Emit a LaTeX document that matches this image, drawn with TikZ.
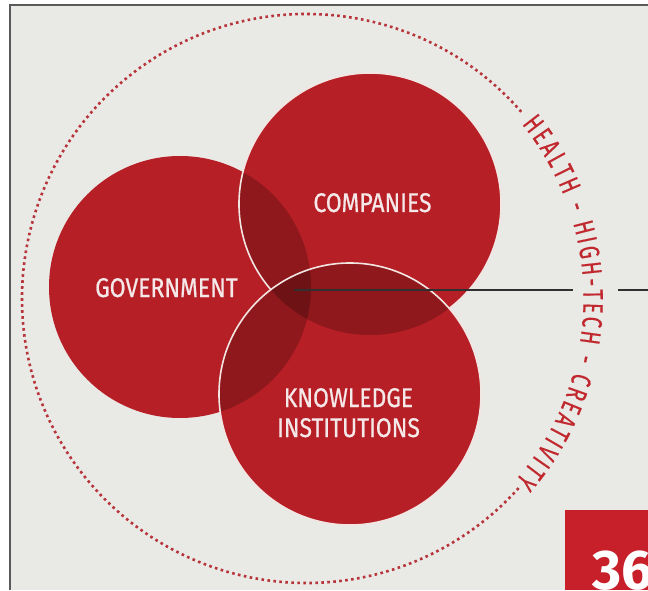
\documentclass[tikz,border=0pt]{standalone}
\usepackage{fontspec}
\setmainfont{Fira Sans}
\newfontfamily\labelfont[FakeStretch=0.85,FakeBold=0.6]{Fira Sans}
\newfontfamily\arcfont[FakeStretch=0.7,FakeBold=0.4]{Fira Sans}
\usetikzlibrary{decorations.text}
\definecolor{bggray}{HTML}{E9E9E6}
\definecolor{bordergray}{HTML}{5A5A5A}
\definecolor{basered}{HTML}{B71F26}
\definecolor{lensred}{HTML}{8E181C}
\definecolor{triplered}{HTML}{6F1216}
\definecolor{outlinewhite}{HTML}{F2E6E3}
\definecolor{labelwhite}{HTML}{F5E8E8}
\definecolor{dotred}{HTML}{B7343B}
\definecolor{arcred}{HTML}{C0282E}
\definecolor{boxred}{HTML}{C8202A}
\definecolor{linegray}{HTML}{303030}
\begin{document}
\begin{tikzpicture}[x=1pt,y=1pt,
  circlelabel/.style={font=\labelfont\fontsize{27}{31}\selectfont, text=labelwhite, inner sep=0pt, anchor=base},
  whiteoutline/.style={draw=outlinewhite, line width=1.6pt},
  dottedring/.style={draw=dotred, line width=2.6pt, dash pattern=on 2.6pt off 3.4pt},
  axisline/.style={draw=linegray, line width=1.8pt}]
\useasboundingbox (0,0) rectangle (648,590);
\fill[white] (0,0) rectangle (648,590);
\fill[bggray] (10,0) rectangle (648,585);
\draw[bordergray, line width=2pt] (10,0) -- (10,585) -- (648,585);

% centres
\coordinate (g) at (180,303);
\coordinate (c) at (370,386);
\coordinate (k) at (350,196);
\coordinate (dc) at (306.5,291.5);

% dotted ring
\draw[dottedring] (dc) ++(41:284.5) arc[start angle=41, end angle=318.5, radius=284.5];

% government and companies
\fill[basered] (g) circle[radius=131];
\fill[basered] (c) circle[radius=131];
\begin{scope}
  \clip (g) circle[radius=131];
  \fill[lensred] (c) circle[radius=131];
\end{scope}
\draw[whiteoutline] (c) circle[radius=131];

% knowledge institutions
\fill[basered] (k) circle[radius=131];
\begin{scope}
  \clip (k) circle[radius=131];
  \fill[lensred] (g) circle[radius=131];
  \fill[lensred] (c) circle[radius=131];
  \clip (g) circle[radius=131];
  \fill[triplered] (c) circle[radius=131];
\end{scope}
\draw[whiteoutline] (k) circle[radius=131];

% horizontal line
\coordinate (l0) at (294,300);
\coordinate (l1) at (573,300);
\coordinate (l2) at (618,300);
\coordinate (l3) at (648,300);
\draw[axisline] (l0) -- (l1);
\draw[axisline] (l2) -- (l3);

% labels
\node[circlelabel] (govlabel) at (166.5,293) {GOVERNMENT};
\node[circlelabel] (complabel) at (372.5,378) {COMPANIES};
\node[circlelabel] (knowlabel) at (348.5,183) {KNOWLEDGE};
\node[circlelabel] (instlabel) at (348.5,153) {INSTITUTIONS};

% curved text
\path[decorate, decoration={text along path,
  text={|\arcfont\fontsize{28}{28}\selectfont\color{arcred}|HEALTH - HIGH-TECH - CREATIVITY},
  text align={fit to path}}]
  (dc) ++(39:277) arc[start angle=39, end angle=-41, radius=277];

% page number box
\begin{scope}
  \clip (565,0) rectangle (648,80);
  \fill[boxred] (565,0) rectangle (648,80);
  \node[font=\bfseries\fontsize{56}{56}\selectfont, text=white, inner sep=0pt, anchor=base west] (pagenum) at (592,1) {36};
\end{scope}
\end{tikzpicture}
\end{document}
